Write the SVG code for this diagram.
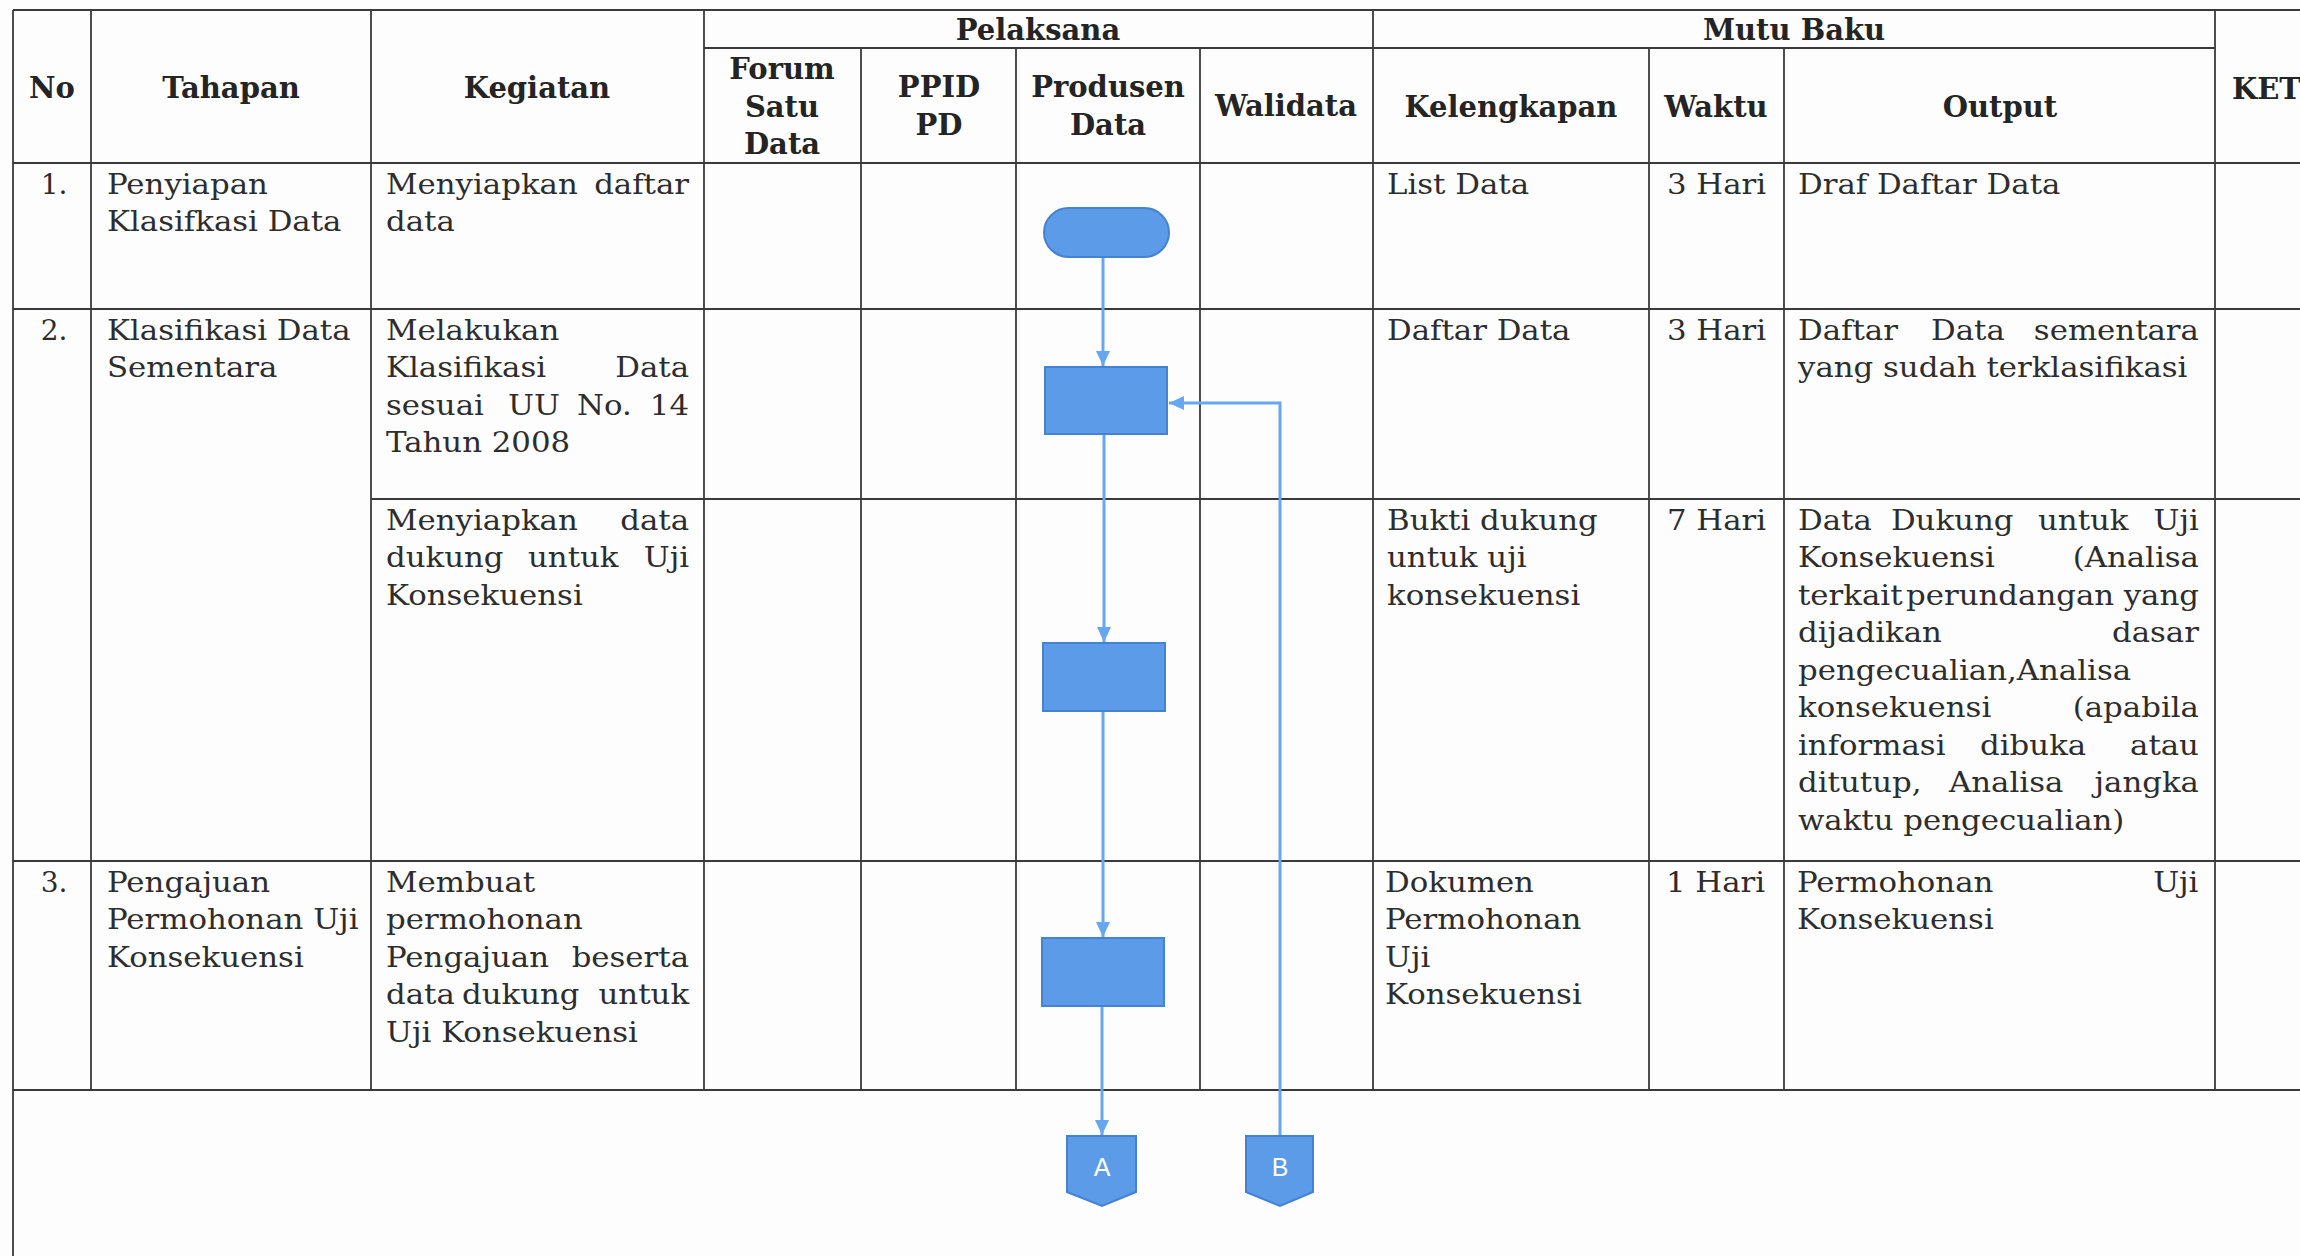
<svg xmlns="http://www.w3.org/2000/svg" width="2300" height="1256" viewBox="0 0 2300 1256">
<style>
.grid line{stroke:#3a3a3a;stroke-width:1.8}
.hd{font-family:"DejaVu Serif","Liberation Serif",serif;font-weight:bold;font-size:29px;fill:#242424;text-anchor:middle}
.bd{font-family:"DejaVu Serif","Liberation Serif",serif;font-size:28px;fill:#2d2d2d}
.e{text-anchor:end}
.m{text-anchor:middle}
.shape{fill:#5b9be8;stroke:#4682d2;stroke-width:2}
.conn{fill:none;stroke:#67a7ef;stroke-width:3}
.lbl{font-family:"Liberation Sans","Open Sans",sans-serif;font-size:25px;fill:#ffffff;text-anchor:middle}
</style>
<defs>
<marker id="arr" viewBox="0 0 15 14" refX="15" refY="7" markerWidth="15" markerHeight="14" markerUnits="userSpaceOnUse" orient="auto">
<path d="M0,0 L15,7 L0,14 z" fill="#67a7ef"/>
</marker>
</defs>
<rect x="0" y="0" width="2300" height="1256" fill="#fdfdfd"/>

<g class="grid">
<line x1="13" y1="10" x2="2300" y2="10"/>
<line x1="704" y1="48" x2="2215" y2="48"/>
<line x1="13" y1="163" x2="2300" y2="163"/>
<line x1="13" y1="309" x2="2300" y2="309"/>
<line x1="371" y1="499" x2="2300" y2="499"/>
<line x1="13" y1="861" x2="2300" y2="861"/>
<line x1="13" y1="1090" x2="2300" y2="1090"/>
<line x1="13" y1="10" x2="13" y2="1256"/>
<line x1="91" y1="10" x2="91" y2="1090"/>
<line x1="371" y1="10" x2="371" y2="1090"/>
<line x1="704" y1="10" x2="704" y2="1090"/>
<line x1="861" y1="48" x2="861" y2="1090"/>
<line x1="1016" y1="48" x2="1016" y2="1090"/>
<line x1="1200" y1="48" x2="1200" y2="1090"/>
<line x1="1373" y1="10" x2="1373" y2="1090"/>
<line x1="1649" y1="48" x2="1649" y2="1090"/>
<line x1="1784" y1="48" x2="1784" y2="1090"/>
<line x1="2215" y1="10" x2="2215" y2="1090"/>
</g>

<g id="header">
<text class="hd" x="52" y="98">No</text>
<text class="hd" x="231" y="98">Tahapan</text>
<text class="hd" x="537" y="98">Kegiatan</text>
<text class="hd" x="1038" y="40">Pelaksana</text>
<text class="hd" x="1794" y="40">Mutu Baku</text>
<text class="hd" x="782" y="79">Forum</text>
<text class="hd" x="782" y="117">Satu</text>
<text class="hd" x="782" y="154">Data</text>
<text class="hd" x="939" y="97">PPID</text>
<text class="hd" x="939" y="135">PD</text>
<text class="hd" x="1108" y="97">Produsen</text>
<text class="hd" x="1108" y="135">Data</text>
<text class="hd" x="1286" y="116">Walidata</text>
<text class="hd" x="1511" y="117">Kelengkapan</text>
<text class="hd" x="1716" y="117">Waktu</text>
<text class="hd" x="2000" y="117">Output</text>
<text class="hd" x="2232" y="99" style="text-anchor:start">KET</text>
</g>

<g id="row1" class="bd">
<text class="m" x="54" y="194">1.</text>
<g transform="translate(107 0) scale(1.1 1)">
<text x="0" y="194">Penyiapan</text>
<text x="0" y="231.5">Klasifkasi Data</text>
</g>
<g transform="translate(386 0) scale(1.1 1)">
<text y="194"><tspan x="0">Menyiapkan</tspan><tspan x="275.5" text-anchor="end">daftar</tspan></text>
<text x="0" y="231.5">data</text>
</g>
<g transform="translate(1387 0) scale(1.1 1)"><text x="0" y="194">List Data</text></g>
<g transform="translate(1667 0) scale(1.1 1)"><text x="0" y="194">3 Hari</text></g>
<g transform="translate(1798 0) scale(1.1 1)"><text x="0" y="194">Draf Daftar Data</text></g>
</g>

<g id="row2" class="bd">
<text class="m" x="54" y="340">2.</text>
<g transform="translate(107 0) scale(1.1 1)">
<text x="0" y="340">Klasifikasi Data</text>
<text x="0" y="377.5">Sementara</text>
</g>
<g transform="translate(386 0) scale(1.1 1)">
<text x="0" y="340">Melakukan</text>
<text y="377.5"><tspan x="0">Klasifikasi</tspan><tspan x="275.5" text-anchor="end">Data</tspan></text>
<text y="415"><tspan x="0">sesuai</tspan><tspan x="110.9">UU</tspan><tspan x="173.6">No.</tspan><tspan x="275.5" text-anchor="end">14</tspan></text>
<text x="0" y="452.5">Tahun 2008</text>
</g>
<g transform="translate(1387 0) scale(1.1 1)"><text x="0" y="340">Daftar Data</text></g>
<g transform="translate(1667 0) scale(1.1 1)"><text x="0" y="340">3 Hari</text></g>
<g transform="translate(1798 0) scale(1.1 1)">
<text y="340"><tspan x="0">Daftar</tspan><tspan x="120.9">Data</tspan><tspan x="364.5" text-anchor="end">sementara</tspan></text>
<text x="0" y="377.5">yang sudah terklasifikasi</text>
</g>

<g transform="translate(386 0) scale(1.1 1)">
<text y="530"><tspan x="0">Menyiapkan</tspan><tspan x="275.5" text-anchor="end">data</tspan></text>
<text y="567.5"><tspan x="0">dukung</tspan><tspan x="129.1">untuk</tspan><tspan x="275.5" text-anchor="end">Uji</tspan></text>
<text x="0" y="605">Konsekuensi</text>
</g>
<g transform="translate(1387 0) scale(1.1 1)">
<text x="0" y="530">Bukti dukung</text>
<text x="0" y="567.5">untuk uji</text>
<text x="0" y="605">konsekuensi</text>
</g>
<g transform="translate(1667 0) scale(1.1 1)"><text x="0" y="530">7 Hari</text></g>
<g transform="translate(1798 0) scale(1.1 1)">
<text y="530"><tspan x="0">Data</tspan><tspan x="84.5">Dukung</tspan><tspan x="218.2">untuk</tspan><tspan x="364.5" text-anchor="end">Uji</tspan></text>
<text y="567.5"><tspan x="0">Konsekuensi</tspan><tspan x="364.5" text-anchor="end">(Analisa</tspan></text>
<text y="605"><tspan x="0">terkait</tspan><tspan x="98.2">perundangan</tspan><tspan x="364.5" text-anchor="end">yang</tspan></text>
<text y="642.5"><tspan x="0">dijadikan</tspan><tspan x="364.5" text-anchor="end">dasar</tspan></text>
<text x="0" y="680">pengecualian,Analisa</text>
<text y="717.5"><tspan x="0">konsekuensi</tspan><tspan x="364.5" text-anchor="end">(apabila</tspan></text>
<text y="755"><tspan x="0">informasi</tspan><tspan x="165.5">dibuka</tspan><tspan x="364.5" text-anchor="end">atau</tspan></text>
<text y="792.5"><tspan x="0">ditutup,</tspan><tspan x="137.3">Analisa</tspan><tspan x="364.5" text-anchor="end">jangka</tspan></text>
<text x="0" y="830">waktu pengecualian)</text>
</g>
</g>

<g id="row3" class="bd">
<text class="m" x="54" y="892">3.</text>
<g transform="translate(107 0) scale(1.1 1)">
<text x="0" y="892">Pengajuan</text>
<text x="0" y="929.5">Permohonan Uji</text>
<text x="0" y="967">Konsekuensi</text>
</g>
<g transform="translate(386 0) scale(1.1 1)">
<text x="0" y="892">Membuat</text>
<text x="0" y="929.5">permohonan</text>
<text y="967"><tspan x="0">Pengajuan</tspan><tspan x="275.5" text-anchor="end">beserta</tspan></text>
<text y="1004.5"><tspan x="0">data</tspan><tspan x="69.1">dukung</tspan><tspan x="275.5" text-anchor="end">untuk</tspan></text>
<text x="0" y="1042">Uji Konsekuensi</text>
</g>
<g transform="translate(1385 0) scale(1.1 1)">
<text x="0" y="892">Dokumen</text>
<text x="0" y="929.5">Permohonan</text>
<text x="0" y="967">Uji</text>
<text x="0" y="1004.5">Konsekuensi</text>
</g>
<g transform="translate(1666 0) scale(1.1 1)"><text x="0" y="892">1 Hari</text></g>
<g transform="translate(1797 0) scale(1.1 1)">
<text y="892"><tspan x="0">Permohonan</tspan><tspan x="365" text-anchor="end">Uji</tspan></text>
<text x="0" y="929.5">Konsekuensi</text>
</g>
</g>

<g id="connectors">
<path class="conn" d="M1103 257 L1103 366" marker-end="url(#arr)"/>
<path class="conn" d="M1104 434 L1104 642" marker-end="url(#arr)"/>
<path class="conn" d="M1103 711 L1103 937" marker-end="url(#arr)"/>
<path class="conn" d="M1102 1006 L1102 1135" marker-end="url(#arr)"/>
<path class="conn" d="M1280 1136 L1280 403 L1169 403" marker-end="url(#arr)"/>
</g>

<g id="node-start"><rect class="shape" x="1044" y="208" width="125" height="49" rx="24.5"/></g>
<g id="node-klasifikasi"><rect class="shape" x="1045" y="367" width="122" height="67"/></g>
<g id="node-datadukung"><rect class="shape" x="1043" y="643" width="122" height="68"/></g>
<g id="node-permohonan"><rect class="shape" x="1042" y="938" width="122" height="68"/></g>
<g id="node-A">
<polygon class="shape" points="1067,1136 1136,1136 1136,1192 1102,1206 1067,1192"/>
<text class="lbl" x="1102" y="1176">A</text>
</g>
<g id="node-B">
<polygon class="shape" points="1246,1136 1313,1136 1313,1192 1280,1206 1246,1192"/>
<text class="lbl" x="1280" y="1176">B</text>
</g>
</svg>
